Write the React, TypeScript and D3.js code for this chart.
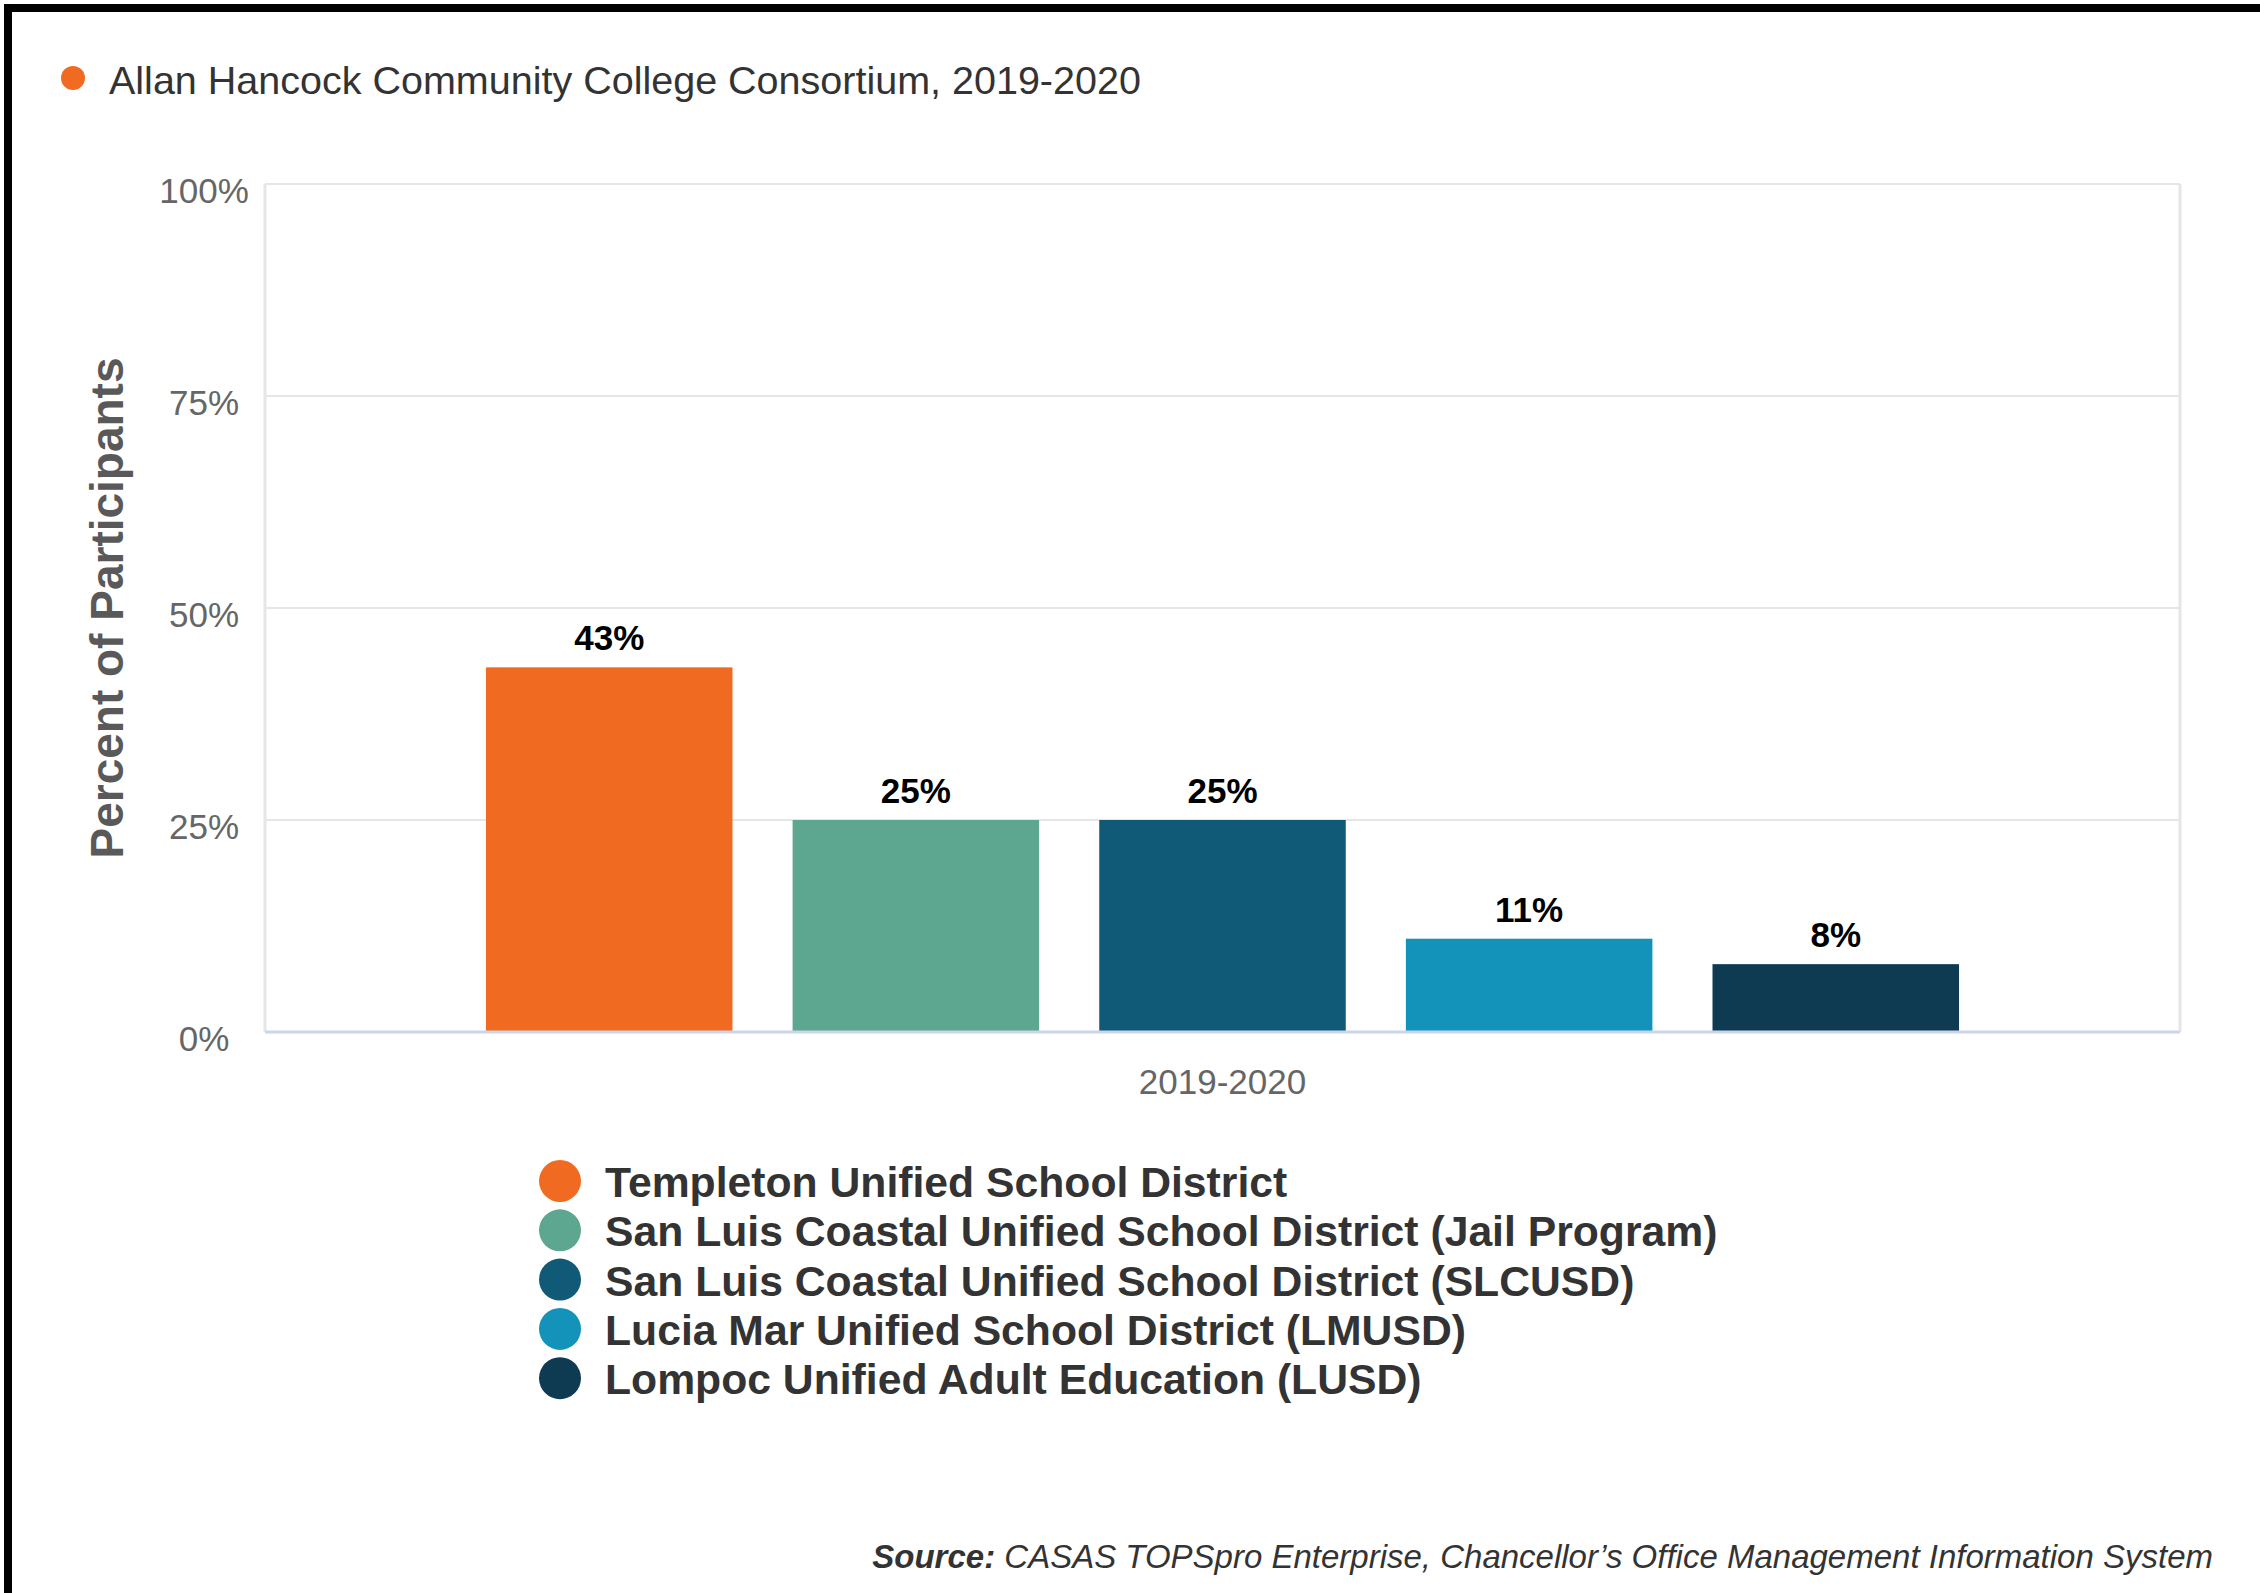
import * as d3 from 'd3';

const CHART_TITLE = 'Allan Hancock Community College Consortium, 2019-2020';
const CATEGORIES = ['2019-2020'];
const SERIES_NAMES = [
  'Templeton Unified School District',
  'San Luis Coastal Unified School District (Jail Program)',
  'San Luis Coastal Unified School District (SLCUSD)',
  'Lucia Mar Unified School District (LMUSD)',
  'Lompoc Unified Adult Education (LUSD)',
];
const SERIES_VALUES = [43, 25, 25, 11, 8];
const SERIES_COLORS = ['#f06b21', '#5da690', '#105a78', '#1393ba', '#0e3a52'];
const Y_TICKS = [0, 25, 50, 75, 100];

const W = 2260;
const H = 1593;
const FONT = '"Liberation Sans", Arial, Helvetica, sans-serif';

const plot = { left: 265, right: 2180, top: 184, bottom: 1032 };

export default function App() {
  const y = d3.scaleLinear().domain([0, 100]).range([plot.bottom, plot.top]);
  const x0 = d3.scaleBand().domain(CATEGORIES).range([plot.left, plot.right]).paddingOuter(0.15);
  const x1 = d3.scaleBand().domain(SERIES_NAMES).range([0, x0.bandwidth()]).paddingInner(0.196);
  const legendY = d3.scaleLinear().domain([0, 1]).range([1181, 1230.3]);

  return (
    <>
      <style>{`body{margin:0;}`}</style>
      <svg width={W} height={H} style={{ display: 'block', fontFamily: FONT }}>
        <rect x={0} y={0} width={W} height={H} fill="#fff" />
        {/* frame */}
        <rect x={4} y={4} width={W} height={8} fill="#000" />
        <rect x={4} y={4} width={8} height={H} fill="#000" />

        {/* title */}
        <circle cx={73} cy={78} r={12} fill={SERIES_COLORS[0]} />
        <text x={109} y={94} fontSize={39.5} fill="#333">{CHART_TITLE}</text>

        {/* grid */}
        {Y_TICKS.map((t) => (
          <line key={t} x1={plot.left} x2={plot.right} y1={y(t)} y2={y(t)} stroke="#e6e6e6" strokeWidth={2} />
        ))}
        <line x1={plot.left} x2={plot.left} y1={plot.top} y2={plot.bottom} stroke="#e6e6e6" strokeWidth={3} />
        <line x1={plot.right} x2={plot.right} y1={plot.top} y2={plot.bottom} stroke="#e6e6e6" strokeWidth={3} />

        {/* y tick labels */}
        {Y_TICKS.map((t) => (
          <text key={t} x={204} y={y(t) + 19} fontSize={35} fill="#666" textAnchor="middle">{`${t}%`}</text>
        ))}

        {/* y axis title */}
        <text
          transform={`translate(123, ${(plot.top + plot.bottom) / 2}) rotate(-90)`}
          fontSize={46}
          fontWeight="bold"
          fill="#595959"
          textAnchor="middle"
        >
          Percent of Participants
        </text>

        {/* bars */}
        {CATEGORIES.map((cat) => (
          <g key={cat} transform={`translate(${x0(cat)},0)`}>
            {SERIES_NAMES.map((name, i) => (
              <g key={name}>
                <rect
                  x={x1(name)}
                  y={y(SERIES_VALUES[i])}
                  width={x1.bandwidth()}
                  height={y(0) - y(SERIES_VALUES[i])}
                  fill={SERIES_COLORS[i]}
                />
                <text
                  x={(x1(name) ?? 0) + x1.bandwidth() / 2}
                  y={y(SERIES_VALUES[i]) - 17}
                  fontSize={35}
                  fontWeight="bold"
                  fill="#000"
                  textAnchor="middle"
                >
                  {`${SERIES_VALUES[i]}%`}
                </text>
              </g>
            ))}
            <text
              x={x0.bandwidth() / 2}
              y={1094}
              fontSize={35}
              fill="#666"
              textAnchor="middle"
            >
              {cat}
            </text>
          </g>
        ))}

        {/* x axis line */}
        <line x1={plot.left} x2={plot.right} y1={plot.bottom} y2={plot.bottom} stroke="#ccd6eb" strokeWidth={3} />

        {/* legend */}
        {SERIES_NAMES.map((name, i) => (
          <g key={name} transform={`translate(0, ${legendY(i)})`}>
            <circle cx={560} cy={0} r={21} fill={SERIES_COLORS[i]} />
            <text x={605} y={16} fontSize={42.7} fontWeight="bold" fill="#333">{name}</text>
          </g>
        ))}

        {/* source */}
        <text x={2213} y={1568} fontSize={33} fontStyle="italic" fill="#333" textAnchor="end">
          <tspan fontWeight="bold">Source:</tspan>
          <tspan> CASAS TOPSpro Enterprise, Chancellor’s Office Management Information System</tspan>
        </text>
      </svg>
    </>
  );
}
